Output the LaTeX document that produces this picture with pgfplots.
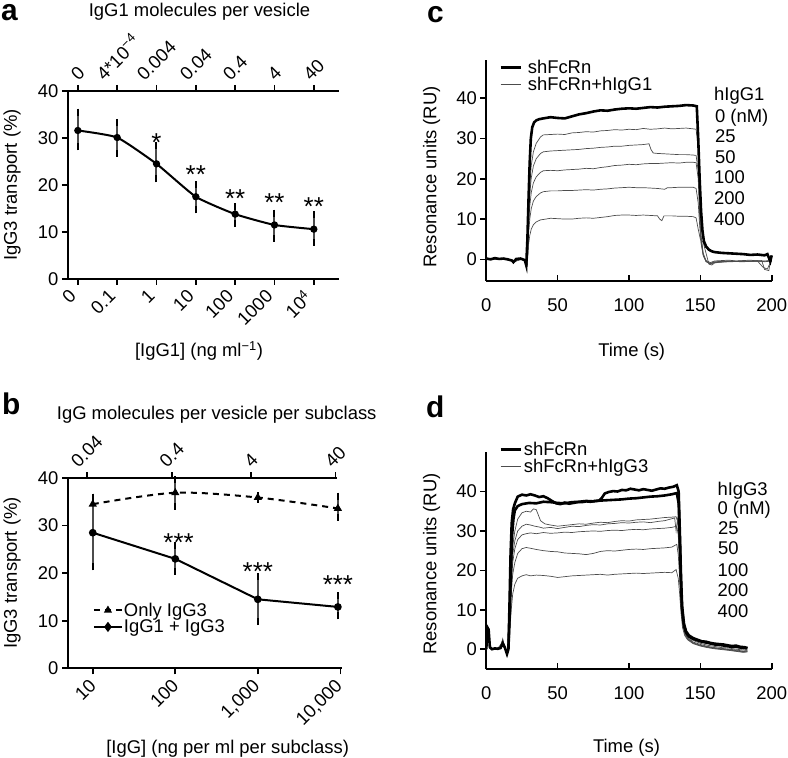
\documentclass[border=0pt]{standalone}
\usepackage{fontspec}
\setmainfont{Liberation Sans}
\usepackage{graphicx}
\usepackage{pgfplots}
\pgfplotsset{compat=1.18}
\newcommand\fs{\fontsize{18.5}{22}\selectfont}
\newcommand\fstar{\fontsize{26}{30}\selectfont}
\newcommand\rb[1]{\rotatebox{45}{#1}}
\newcommand\supfour{\raisebox{0.42em}{\fontsize{13}{13}\selectfont −4}}
\pgfplotsset{
  base/.style={
    scale only axis, anchor=south west,
    axis line style={line width=2bp},
    every tick/.style={black, line width=1.6bp},
    major tick length=6bp,
    tick align=outside,
    /pgf/number format/assume math mode=true,
    tick label style={font=\fs},
    clip=false,
  },
  thin/.style={black!70, line width=0.7bp, forget plot},
  thick/.style={black, line width=2.6bp, forget plot},
  legb/.style={legend image code/.code={\draw[mark repeat=2,mark phase=2,##1] plot coordinates {(0bp,0bp) (14bp,0bp) (28bp,0bp)};}},
  legc/.style={legend image code/.code={\draw[##1] (0bp,0bp) -- (20bp,0bp);}},
}
\begin{document}
\begin{tikzpicture}[font=\fs]
\useasboundingbox (0bp,0bp) rectangle (788bp,758bp);
% ---------------- panel a ----------------
\begin{axis}[base, at={(68bp,479bp)}, width=271bp, height=188bp,
  xmin=-0.25, xmax=6.64, ymin=0, ymax=40,
  axis x line*=bottom, axis y line*=left,
  xtick={0,1,2,3,4,5,6},
  xticklabels={{\rb{0}},{\rb{0.1}},{\rb{1}},{\rb{10}},{\rb{100}},{\rb{1000}},{\rb{10\textsuperscript{4}}}},
  xticklabel style={anchor=north east, xshift=3bp},
  ytick={0,10,20,30,40}]
\addplot[black, line width=2bp, smooth, tension=0.3, mark=*, mark size=2.6bp,
  error bars/.cd, y dir=both, y explicit,
  error bar style={line width=2bp, solid},
  error mark options={line width=2bp, mark size=3.5bp, black, solid}]
coordinates {(0,31.6) += (0,3.9) -= (0,3.5)
 (1,30.1) += (0,3.2) -= (0,3.3)
 (2,24.5) += (0,3.8) -= (0,3.2)
 (3,17.5) += (0,2.6) -= (0,2.8)
 (4,13.8) += (0,1.6) -= (0,2.0)
 (5,11.5) += (0,2.5) -= (0,2.8)
 (6,10.6) += (0,3.1) -= (0,2.8)};
\node[font=\fstar, anchor=base, yshift=-15bp] at (axis cs:2,30.3) {*};
\node[font=\fstar, anchor=base, yshift=-15bp] at (axis cs:3,23.6) {**};
\node[font=\fstar, anchor=base, yshift=-15bp] at (axis cs:4,18.5) {**};
\node[font=\fstar, anchor=base, yshift=-15bp] at (axis cs:5,17.5) {**};
\node[font=\fstar, anchor=base, yshift=-15bp] at (axis cs:6,16.6) {**};
\end{axis}
\begin{axis}[base, at={(68bp,479bp)}, width=271bp, height=188bp,
  xmin=-0.25, xmax=6.64, ymin=0, ymax=40,
  axis x line*=top, axis y line=none, ytick=\empty,
  xtick=\empty,
  extra x ticks={0,1,2,3,4,5,6},
  extra x tick labels={{\rb{0}},{\rb{4*10\supfour}},{\rb{0.004}},{\rb{0.04}},{\rb{0.4}},{\rb{4}},{\rb{40}}},
  extra tick style={xticklabel style={anchor=south}}]
\addplot[draw=none] coordinates {(1,1)};
\end{axis}
% ---------------- panel b ----------------
\begin{axis}[base, at={(68bp,89.7bp)}, width=274bp, height=190.3bp,
  xmin=0.70, xmax=4.02, ymin=0, ymax=40,
  axis x line*=bottom, axis y line*=left,
  xtick={1,2,3,4},
  xticklabels={{\rb{10}},{\rb{100}},{\rb{1{,}000}},{\rb{10{,}000}}},
  xticklabel style={anchor=north east, xshift=8bp},
  ytick={0,10,20,30,40},
  legend style={at={(axis cs:1.0,14)}, anchor=north west, draw=none, fill=none,
    font=\fs, inner sep=0pt, row sep=0pt, cells={anchor=west},
    nodes={inner sep=1bp}}]
\addlegendimage{legb, black, line width=2bp, dash pattern=on 6bp off 5bp, mark=triangle*, mark size=2.8bp, mark options={solid}}
\addlegendentry{Only IgG3}
\addlegendimage{legb, black, line width=2bp, mark=diamond*, mark size=3.5bp}
\addlegendentry{IgG1 + IgG3}
\addplot[black, line width=2bp, dash pattern=on 6bp off 5bp, smooth, tension=0.5,
  mark=triangle*, mark size=2.8bp, mark options={solid}, forget plot,
  error bars/.cd, y dir=both, y explicit,
  error bar style={line width=2bp, solid},
  error mark options={line width=2bp, mark size=3.5bp, black, solid}]
coordinates {(1,34.5) += (0,1.5) -= (0,1.5)
 (2,36.9) += (0,2.8) -= (0,2.8)
 (3,35.9) += (0,0.4) -= (0,0.4)
 (3.97,33.6) += (0,2.6) -= (0,1.9)};
\addplot[black, line width=2bp, mark=*, mark size=2.8bp, forget plot,
  error bars/.cd, y dir=both, y explicit,
  error bar style={line width=2bp, solid},
  error mark options={line width=2bp, mark size=3.5bp, black, solid}]
coordinates {(1,28.5) += (0,7.5) -= (0,7.2)
 (2,23.0) += (0,2.8) -= (0,2.6)
 (3,14.5) += (0,4.7) -= (0,4.7)
 (3.97,12.9) += (0,2.3) -= (0,1.9)};
\node[font=\fstar, anchor=base, yshift=-15bp] at (axis cs:2.04,27.8) {***};
\node[font=\fstar, anchor=base, yshift=-15bp] at (axis cs:3,21.7) {***};
\node[font=\fstar, anchor=base, yshift=-15bp] at (axis cs:3.97,18.9) {***};
\end{axis}
\begin{axis}[base, at={(68bp,89.7bp)}, width=269bp, height=190.3bp,
  xmin=0.70, xmax=3.96, ymin=0, ymax=40,
  axis x line*=top, axis y line=none, ytick=\empty,
  xtick={0.927,1.958,2.917,3.940},
  xticklabels={{\rb{0.04}},{\rb{0.4}},{\rb{4}},{\rb{40}}},
  xticklabel style={anchor=south}]
\addplot[draw=none] coordinates {(1,0)};
\end{axis}
% ---------------- panel c ----------------
\begin{axis}[base, at={(486.3bp,477.3bp)}, width=285.4bp, height=220.7bp,
  xmin=0, xmax=200, ymin=-5.3, ymax=49.5,
  axis x line*=bottom, axis y line*=left,
  xtick=\empty, extra x ticks={0,50,100,150,200},
  extra tick style={tick align=inside, xticklabel style={yshift=-14bp}},
  ytick={0,10,20,30,40},
  legend style={at={(axis cs:8.9,49.8)}, anchor=north west, draw=none, fill=none,
    font=\fs, inner sep=0pt, row sep=0pt, cells={anchor=west},
    nodes={inner sep=1bp}}]
\addlegendimage{legc, black, line width=2.6bp}
\addlegendentry{\hspace{5bp}shFcRn}
\addlegendimage{legc, black!70, line width=0.7bp}
\addlegendentry{\hspace{5bp}shFcRn+hIgG1}
% 25 nM
\addplot[thin] coordinates {(0,0.2) (4,0) (8,0.3) (12,0.1) (16,-0.2) (19,-0.6) (22,0.1) (25,0) (28,-0.5) (28.8,-1.3)
(29.5,11) (30.5,18.6) (31.5,23.3) (33,26.7) (35,28.8) (38,30.4) (40,30.9) (45,31.0) (50,31.1) (55,31.0) (60,31.4) (65,31.5) (70,31.7) (75,31.6) (80,31.9) (85,32.0) (90,32.2) (95,32.1) (100,32.3) (105,32.2) (110,32.5) (115,32.3) (120,32.4) (125,32.6) (130,32.4) (135,32.5) (140,32.6) (145,32.4) (147,32.3) (148.5,28) (149.5,15) (150.5,6) (152,1.5) (154,-0.3) (157,-0.8) (160,-0.4) (165,-0.3) (170,-0.2) (175,-0.4) (180,-0.3) (185,-0.2) (190,-0.4) (193,-0.3) (195,-2.5) (198,-2.8) (199,-0.5) (200,-0.3)};
% 50 nM
\addplot[thin] coordinates {(0,0.1) (5,0.2) (10,0) (15,0.1) (19,-0.5) (23,0) (27,-0.1) (28.8,-1.0)
(29.5,9.5) (30.5,16.2) (31.5,20.2) (33,23.2) (35,25.0) (38,26.3) (40,26.7) (45,26.9) (50,27.0) (55,27.1) (60,27.2) (65,27.3) (70,27.5) (75,27.6) (80,27.8) (85,27.9) (90,28.1) (95,28.1) (100,28.3) (105,28.4) (110,28.5) (114,28.7) (115.5,27.2) (117,26.4) (120,26.3) (125,26.2) (130,26.1) (135,26.0) (140,26.0) (145,25.9) (147,25.8) (148.5,22) (149.5,12) (150.5,5) (152,1.2) (154,-0.5) (157,-1.0) (160,-0.6) (170,-0.4) (180,-0.5) (190,-0.3) (195,-0.6) (200,-0.4)};
% 100 nM
\addplot[thin] coordinates {(0,0) (6,0.2) (12,0) (18,-0.3) (20,-0.6) (24,0.1) (28,-0.3) (28.8,-1.1)
(29.5,7.8) (30.5,13.3) (31.5,16.6) (33,19.0) (35,20.5) (38,21.6) (40,22.0) (45,22.1) (50,22.0) (55,22.2) (60,22.3) (65,22.4) (70,22.6) (75,22.5) (80,22.8) (85,23.0) (90,23.3) (95,23.4) (100,23.6) (105,23.5) (110,23.7) (115,23.8) (120,23.8) (125,23.9) (130,24.0) (135,23.9) (140,24.1) (145,24.1) (147,24.0) (148.5,20) (149.5,11) (150.5,4.5) (152,1.0) (154,-0.6) (157,-1.1) (160,-0.7) (170,-0.5) (180,-0.6) (190,-0.4) (194,-2.0) (197,-2.4) (199,-0.8) (200,-0.5)};
% 200 nM
\addplot[thin] coordinates {(0,0.1) (7,0) (14,0.2) (20,-0.4) (25,0.1) (28.8,-0.9)
(29.5,5.9) (30.5,10.1) (31.5,12.6) (33,14.5) (35,15.6) (38,16.5) (40,16.8) (45,17.0) (50,17.0) (55,17.1) (60,17.1) (65,17.2) (70,17.3) (75,17.2) (80,17.4) (85,17.5) (90,17.7) (95,17.8) (100,17.9) (105,17.8) (110,17.8) (115,17.7) (120,17.6) (125,17.4) (127,17.8) (130,17.8) (135,17.9) (140,17.9) (145,17.9) (147,17.6) (148.5,14) (149.5,8.5) (150.5,4.0) (152,1.0) (154,-0.5) (157,-1.2) (160,-0.8) (170,-0.6) (180,-0.5) (190,-0.5) (200,-0.4)};
% 400 nM
\addplot[thin] coordinates {(0,0) (8,0.1) (16,0) (20,-0.5) (26,0.1) (28.8,-0.8)
(29.5,3.5) (30.5,6) (31.5,7.5) (33,8.6) (35,9.3) (38,9.8) (40,9.9) (45,10.2) (50,10.1) (55,10.0) (60,10.0) (65,10.2) (70,10.3) (75,10.2) (80,10.4) (85,10.6) (90,10.9) (95,11.0) (100,11.0) (105,10.9) (110,11.0) (115,10.9) (120,10.8) (121.5,10.0) (123,9.6) (124.5,10.8) (130,10.8) (135,10.7) (140,10.7) (145,10.6) (147,10.3) (148.5,7.5) (150,5) (152,4.2) (154,1.5) (156,-1.2) (158,-1.4) (160,-0.9) (165,-0.6) (170,-0.5) (180,-0.4) (190,-0.5) (200,-0.3)};
% 0 nM
\addplot[thick] coordinates {(0,0.2) (3,0.0) (6,0.3) (9,0.1) (12,0.2) (15,0.0) (18,-0.3) (19,-0.7) (21,0.1) (24,0.2) (27,-0.2) (28,-1.5) (28.8,5) (29.6,15) (30.4,24) (31.2,30) (32.2,32.8) (33.5,34.0) (35,34.5) (37,34.8) (40,35.0) (45,35.3) (50,35.1) (55,35.0) (60,35.5) (65,36.0) (70,36.3) (75,36.7) (80,37.0) (85,36.9) (90,37.2) (95,37.4) (100,37.5) (105,37.4) (110,37.6) (115,37.8) (120,37.7) (125,37.9) (130,38.0) (135,38.1) (140,38.3) (145,38.2) (147.5,38.0) (148.5,30) (149.5,20) (150.5,12) (151.5,7) (152.5,4.5) (154,3.2) (156,2.4) (158,2.0) (160,1.8) (165,1.6) (170,1.5) (175,1.4) (180,1.3) (185,1.1) (190,1.2) (195,1.0) (197,1.3) (199,-0.5) (200,1.0)};
\end{axis}
% ---------------- panel d ----------------
\begin{axis}[base, at={(486.3bp,88.7bp)}, width=285.4bp, height=217.6bp,
  xmin=0, xmax=200, ymin=-5.1, ymax=50.1,
  axis x line*=bottom, axis y line*=left,
  xtick=\empty, extra x ticks={0,50,100,150,200},
  extra tick style={tick align=inside, xticklabel style={yshift=-14bp}},
  ytick={0,10,20,30,40},
  legend style={at={(axis cs:8.9,52.8)}, anchor=north west, draw=none, fill=none,
    font=\fs, inner sep=0pt, row sep=0pt, cells={anchor=west},
    nodes={inner sep=1bp}}]
\addlegendimage{legc, black, line width=2.6bp}
\addlegendentry{\hspace{1bp}shFcRn}
\addlegendimage{legc, black!70, line width=0.7bp}
\addlegendentry{\hspace{1bp}shFcRn+hIgG3}
\addplot[thin] coordinates {(0,0) (0.8,5) (1.6,4.5) (2.4,0.3) (4,0.1) (7,0.2) (10,0.5) (11.5,2.2) (13,0.5) (14.5,-1.4) (15.5,-0.5)
(16.5,10) (17.5,20) (18.5,26) (20,30) (22,33) (25,34.6) (28,35.0) (31,34.8) (33,35.6) (35,35.4) (36.5,34.0) (38,32.6) (41,31.8) (45,31.5) (50,31.2) (55,31.4) (60,31.6) (65,31.8) (70,31.7) (75,32.0) (80,32.2) (85,32.1) (90,32.4) (95,32.6) (100,32.5) (105,32.8) (110,32.9) (115,33.0) (120,33.2) (125,33.4) (130,33.5) (133,33.6) (134.5,32) (135.5,24) (136.5,14) (137.5,8) (139,5) (141,3.5) (145,2.2) (150,1.5) (155,1.0) (160,0.7) (165,0.4) (170,0.3) (175,0.0) (180,-0.2) (183,-0.3)};
\addplot[thin] coordinates {(0,0) (0.8,4.8) (1.6,4.2) (2.4,0.2) (4,0) (7,0.3) (10,0.4) (11.5,2.6) (13,0.3) (14.5,-1.2) (15.5,-0.3)
(16.5,9) (17.5,18) (18.5,24) (20,27.5) (22,30) (25,31.2) (28,31.7) (31,31.5) (34,31.2) (37,31.0) (40,30.7) (45,30.9) (50,30.6) (55,30.9) (60,31.2) (65,31.1) (70,31.4) (75,31.6) (80,31.5) (85,31.8) (90,31.9) (95,32.1) (100,32.0) (105,32.2) (110,32.3) (115,32.1) (120,32.4) (125,32.6) (130,33.1) (132,33.3) (133,30.0) (134,33.0) (134.5,31) (135.5,23) (136.5,13) (137.5,7.5) (139,4.5) (141,3) (145,1.8) (150,1.2) (155,0.7) (160,0.4) (165,0.2) (170,0.0) (175,-0.2) (180,-0.5) (183,-0.4)};
\addplot[thin] coordinates {(0,0) (1,5.2) (2,3) (3,0.2) (6,0.1) (9,0.3) (11.5,2.0) (13,0.6) (14.5,-1.5) (15.5,-0.4)
(16.5,8) (17.5,16) (18.5,22) (20,25.5) (22,27.8) (25,29.0) (28,29.3) (31,29.5) (35,29.3) (40,29.6) (45,29.4) (50,29.5) (55,29.7) (60,29.6) (65,29.8) (70,29.9) (75,30.0) (80,29.9) (85,30.1) (90,30.2) (95,30.1) (100,30.3) (105,30.4) (110,30.3) (115,30.5) (120,30.6) (125,30.7) (130,30.9) (133.5,31.2) (134.5,29) (135.5,21) (136.5,12) (137.5,7) (139,4.2) (141,2.8) (145,1.6) (150,1.0) (155,0.6) (160,0.3) (170,-0.1) (180,-0.6) (183,-0.5)};
\addplot[thin] coordinates {(0,0) (1,4.6) (2,3.5) (3,0.3) (6,0.2) (9,0.1) (11.5,2.4) (13,0.4) (14.5,-1.3) (15.5,-0.2)
(16.5,7) (17.5,14) (18.5,19) (20,22) (22,24.3) (25,25.5) (28,25.8) (31,25.6) (35,25.3) (40,25.0) (45,24.8) (50,24.7) (55,24.4) (60,24.3) (65,24.2) (70,24.0) (75,24.3) (80,24.8) (85,25.0) (90,24.9) (95,25.1) (100,25.3) (105,25.4) (110,25.3) (115,25.5) (120,25.6) (125,25.7) (130,25.9) (133.5,26.6) (134.5,24) (135.5,18) (136.5,11) (137.5,6.5) (139,4) (141,2.6) (145,1.5) (150,0.9) (155,0.5) (160,0.2) (170,-0.2) (180,-0.7) (183,-0.6)};
\addplot[thin] coordinates {(0,0) (0.8,5.5) (1.8,4) (2.6,0.2) (5,0.1) (8,0.2) (11.5,1.8) (13,0.5) (14.5,-1.6) (15.5,-0.5)
(16.5,5) (17.5,10) (18.5,14) (20,16.5) (22,18.0) (25,18.6) (28,18.9) (31,18.6) (35,18.8) (40,18.7) (45,18.5) (50,18.2) (55,18.4) (60,18.6) (65,18.7) (70,18.8) (75,18.9) (80,19.0) (85,18.8) (90,19.0) (95,19.1) (100,19.2) (105,19.3) (110,19.2) (115,19.3) (120,19.4) (125,19.5) (130,19.4) (133,20.2) (134.5,18) (135.5,14) (136.5,9) (137.5,5.5) (139,3.5) (141,2.4) (145,1.4) (150,0.8) (155,0.4) (160,0.1) (170,-0.3) (180,-0.8) (183,-0.7)};
\addplot[thick] coordinates {(0,0) (0.8,5.5) (1.6,5) (2.5,0.5) (4,0) (6,0.2) (8,0.1) (10,0.3) (11.5,1.5) (13,0.4) (14.5,-1.2) (15.5,0)
(16.5,10) (17.3,21) (18.1,29) (19,33) (20,35.2) (22,36.3) (25,36.8) (30,37.1) (35,37.0) (40,37.4) (45,37.3) (50,37.1) (55,37.0) (60,37.3) (65,37.4) (70,37.6) (75,37.5) (80,37.7) (85,37.8) (90,37.9) (95,38.0) (100,38.2) (105,38.3) (110,38.5) (115,38.7) (120,38.8) (125,39.0) (130,39.3) (133.5,39.6) (134.8,37) (135.6,28) (136.4,17) (137.2,10) (138.5,6) (140,4.2) (142,3.2) (145,2.6) (150,2.0) (155,1.6) (160,1.2) (165,1.0) (170,0.7) (175,0.6) (180,0.3) (183,0.2)};
\addplot[thick] coordinates {(15.5,0) (16.3,12) (17,24) (17.8,32) (18.8,35.5) (20,37) (22,38.7) (25,39.2) (28,39.0) (31,39.3) (34,39.0) (37,38.6) (40,38.8) (43,38.3) (46,37.6) (49,37.0) (52,36.8) (55,37.2) (58,36.9) (61,37.1) (64,37.3) (67,37.3) (70,37.5) (73,37.4) (76,37.6) (79,37.7) (81,38.4) (83,39.5) (86,39.9) (89,40.1) (92,40.0) (95,40.4) (98,40.3) (101,40.7) (104,40.5) (107,40.3) (110,40.6) (113,40.4) (116,40.2) (119,40.5) (122,40.8) (125,40.7) (128,41.0) (131,41.2) (133.5,41.6) (134.8,40) (135.6,30) (136.4,19) (137.2,11) (138.5,6.5) (140,4.5) (142,3.5) (145,2.8) (148,2.4) (151,2.0) (154,1.9) (157,1.6) (160,1.4) (163,1.3) (166,1.2) (169,1.0) (172,0.8) (175,0.9) (178,0.6) (181,0.5) (183,0.3)};
\end{axis}
% ---------------- free text ----------------
\node[font=\fontsize{30}{34}\bfseries, anchor=base west, text height=16bp, text depth=0bp, inner sep=1bp] at (0bp,737bp) {a};
\node[font=\fontsize{30}{34}\bfseries, anchor=base west, text height=22bp, text depth=0bp, inner sep=1bp] at (1bp,343bp) {b};
\node[font=\fontsize{30}{34}\bfseries, anchor=base west, text height=16bp, text depth=0bp, inner sep=1bp] at (426bp,735bp) {c};
\node[font=\fontsize{30}{34}\bfseries, anchor=base west, text height=22bp, text depth=0bp, inner sep=1bp] at (425bp,340bp) {d};
\node[anchor=base] at (199.5bp,741.3bp) {IgG1 molecules per vesicle};
\node[anchor=base] at (216.7bp,338.7bp) {IgG molecules per vesicle per subclass};
\node[anchor=base] at (199bp,401.3bp) {[IgG1] (ng ml\textsuperscript{−1})};
\node[anchor=base] at (227.7bp,4.7bp) {[IgG] (ng per ml per subclass)};
\node[anchor=base] at (631.7bp,401.3bp) {Time (s)};
\node[anchor=base] at (626.5bp,5.3bp) {Time (s)};
\node[rotate=90] at (12bp,573bp) {IgG3 transport (\%)};
\node[rotate=90] at (12bp,185bp) {IgG3 transport (\%)};
\node[rotate=90] at (431.5bp,581bp) {Resonance units (RU)};
\node[rotate=90] at (431.5bp,194bp) {Resonance units (RU)};
\node[anchor=base west] at (710.7bp,657bp) {hIgG1};
\node[anchor=base west] at (711.5bp,635bp) {0 (nM)};
\node[anchor=base west] at (711.5bp,615bp) {25};
\node[anchor=base west] at (711.5bp,594.5bp) {50};
\node[anchor=base west] at (710.7bp,574bp) {100};
\node[anchor=base west] at (710.7bp,553bp) {200};
\node[anchor=base west] at (710.7bp,532bp) {400};
\node[anchor=base west] at (714bp,262bp) {hIgG3};
\node[anchor=base west] at (714bp,243bp) {0 (nM)};
\node[anchor=base west] at (714.5bp,223bp) {25};
\node[anchor=base west] at (714.5bp,203bp) {50};
\node[anchor=base west] at (714bp,181.3bp) {100};
\node[anchor=base west] at (714bp,161.3bp) {200};
\node[anchor=base west] at (714bp,140.7bp) {400};
\end{tikzpicture}
\end{document}
